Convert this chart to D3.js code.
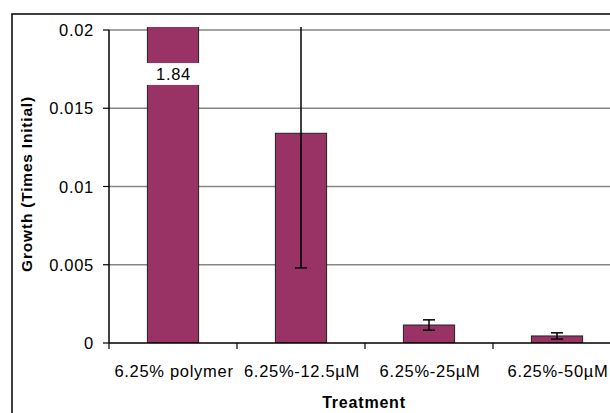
<!DOCTYPE html>
<html><head><meta charset="utf-8">
<script src="https://cdn.jsdelivr.net/npm/d3@7"></script>
<style>
body{margin:0;background:#fff;}
svg{display:block;font-family:Arial,"Liberation Sans",sans-serif;}
</style></head>
<body>
<svg id="c" width="610" height="413"></svg>
<script>
const categories = ["6.25% polymer", "6.25%-12.5µM", "6.25%-25µM", "6.25%-50µM"];
const values = [1.84, 0.0134, 0.00115, 0.00045];
const errors = [0, 0.0086, 0.00033, 0.0002];
const valueLabels = ["1.84", "", "", ""];
const yTicks = [0, 0.005, 0.01, 0.015, 0.02];
const yTickLabels = ["0", "0.005", "0.01", "0.015", "0.02"];
const breakRange = [0.01649, 0.01789];

(function () {
const svg = d3.select("#c");
const pL = 109, pR = 621, pT = 30, pB = 343;
const x = d3.scaleBand().domain(categories).range([pL, pR]).paddingInner(0.6).paddingOuter(0.3);
const y = d3.scaleLinear().domain([0, 0.02]).range([pB, pT]);

// outer border
svg.append("rect").attr("x", 12).attr("y", 14).attr("width", 620).attr("height", 430)
  .attr("fill", "none").attr("stroke", "#000").attr("stroke-width", 1.5);

// gridlines
svg.append("g").selectAll("line").data(yTicks.filter(d => d > 0)).join("line")
  .attr("x1", pL).attr("x2", pR).attr("y1", d => y(d)).attr("y2", d => y(d))
  .attr("stroke", "#858585").attr("stroke-width", 1.5);

// clip
svg.append("clipPath").attr("id", "clip").append("rect")
  .attr("x", pL).attr("y", pT - 3).attr("width", pR - pL).attr("height", pB - pT + 3);

const plot = svg.append("g").attr("clip-path", "url(#clip)");
plot.selectAll("rect.bar").data(values).join("rect").attr("class", "bar")
  .attr("x", (d, i) => x(categories[i]))
  .attr("width", x.bandwidth())
  .attr("y", d => y(d))
  .attr("height", d => y(0) - y(d))
  .attr("fill", "#993366").attr("stroke", "#222").attr("stroke-width", 1);

// error bars
const eg = plot.append("g").attr("stroke", "#000").attr("stroke-width", 1.5);
values.forEach((v, i) => {
  if (!errors[i]) return;
  const cx = x(categories[i]) + x.bandwidth() / 2;
  eg.append("line").attr("x1", cx).attr("x2", cx).attr("y1", y(v + errors[i])).attr("y2", y(v - errors[i]));
  [v + errors[i], v - errors[i]].forEach(e => {
    eg.append("line").attr("x1", cx - 6).attr("x2", cx + 6).attr("y1", y(e)).attr("y2", y(e));
  });
});

// break + label on first bar
values.forEach((v, i) => {
  if (!valueLabels[i]) return;
  const bx = x(categories[i]);
  svg.append("rect").attr("x", bx - 2).attr("width", x.bandwidth() + 4)
    .attr("y", y(breakRange[1])).attr("height", y(breakRange[0]) - y(breakRange[1]))
    .attr("fill", "#fff");
  svg.append("text").attr("x", bx + x.bandwidth() / 2 + 0.5)
    .attr("y", (y(breakRange[0]) + y(breakRange[1])) / 2 + 6)
    .attr("text-anchor", "middle").attr("font-size", 16.5).attr("letter-spacing", 0.7)
    .attr("fill", "#000").text(valueLabels[i]);
});

// y axis
svg.append("line").attr("x1", pL).attr("x2", pL).attr("y1", pT).attr("y2", pB)
  .attr("stroke", "#000").attr("stroke-width", 1.5);
svg.append("g").selectAll("line").data(yTicks).join("line")
  .attr("x1", pL - 6).attr("x2", pL).attr("y1", d => y(d)).attr("y2", d => y(d))
  .attr("stroke", "#000").attr("stroke-width", 1.2);
svg.append("g").selectAll("text").data(yTicks).join("text")
  .attr("x", 94).attr("y", d => y(d) + 6)
  .attr("text-anchor", "end").attr("font-size", 16.5).attr("letter-spacing", 0.7)
  .text((d, i) => yTickLabels[i]);

// x axis
svg.append("line").attr("x1", pL).attr("x2", pR).attr("y1", pB).attr("y2", pB)
  .attr("stroke", "#000").attr("stroke-width", 1.5);
const xt = [pL].concat(categories.map((c, i) => pL + x.step() * (i + 1)));
svg.append("g").selectAll("line").data(xt).join("line")
  .attr("x1", d => d).attr("x2", d => d).attr("y1", pB).attr("y2", pB + 6)
  .attr("stroke", "#000").attr("stroke-width", 1.2);
svg.append("g").selectAll("text").data(categories).join("text")
  .attr("x", d => x(d) + x.bandwidth() / 2 + 1).attr("y", 377)
  .attr("text-anchor", "middle").attr("font-size", 16.5).attr("letter-spacing", 0.7)
  .text(d => d);

// titles
svg.append("text").attr("x", 364).attr("y", 408).attr("text-anchor", "middle")
  .attr("font-size", 16).attr("font-weight", "bold").attr("letter-spacing", 0.8).text("Treatment");
svg.append("text").attr("transform", "translate(32,184) rotate(-90)").attr("text-anchor", "middle")
  .attr("font-size", 15.5).attr("font-weight", "bold").attr("letter-spacing", 0.8).text("Growth (Times Initial)");
})();
</script>
</body></html>
